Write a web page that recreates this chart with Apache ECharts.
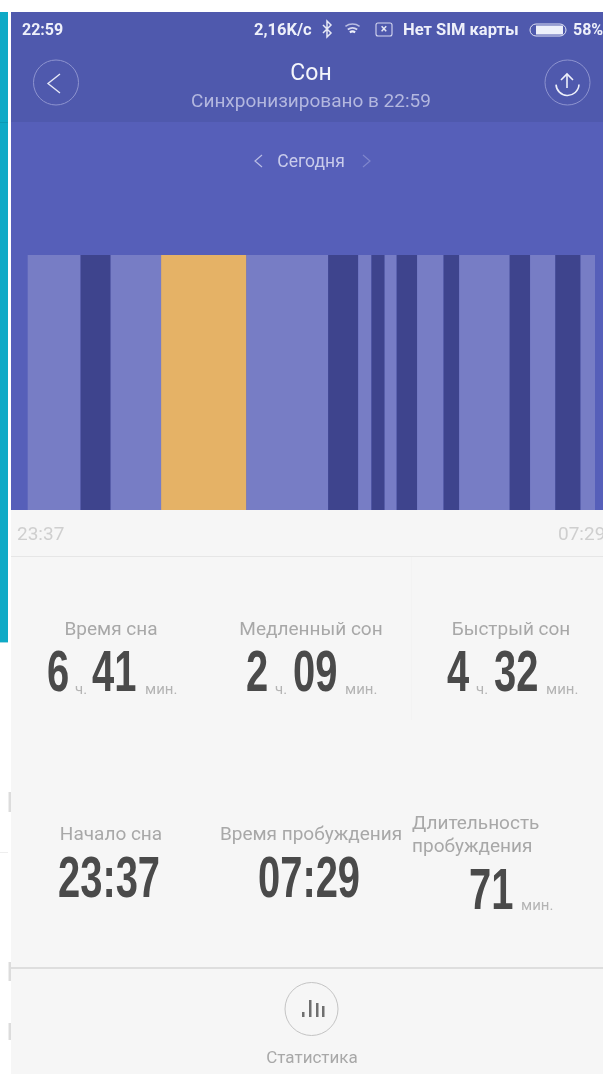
<!DOCTYPE html>
<html><head><meta charset="utf-8">
<style>html,body{margin:0;padding:0;background:#fff}#c{width:603px;height:1074px;filter:blur(0.6px)}</style>
<script src="https://cdn.jsdelivr.net/npm/echarts@6/dist/echarts.min.js"></script>
</head><body><div id="c"></div>
<script>
// Sleep timeline (minutes per phase, in order)
const phaseMinutes = [44,25,42,71,68,25,11,11,10,17,22,13,42,17,21,21,12];
const phaseKinds   = ['light','deep','light','awake','light','deep','light','deep','light','deep','light','deep','light','deep','light','deep','light'];
const phaseColors  = {light:'#777dc5', deep:'#3e448d', awake:'#e5b266'};
const timeLabels   = ['23:37','07:29'];
const durationTitles = ['Время сна','Медленный сон','Быстрый сон'];
const durationHours  = ['6','2','4'];
const durationMins   = ['41','09','32'];

const segments = [];
let t = 0;
phaseMinutes.forEach((m,i)=>{ segments.push([t,t+m,phaseKinds[i]]); t+=m; });

const UI='Roboto, sans-serif';
const NUM='"Liberation Sans Narrow", "Liberation Sans", sans-serif';
function txt(text,x,y,size,fill,o){o=o||{};
  return {type:'text',x:x,y:y,scaleX:o.sx||1,silent:true,z:10,style:{text:text,x:0,y:0,fill:fill,
    font:(o.w||'normal')+' '+size+'px '+(o.f||UI),textAlign:o.a||'center',textVerticalAlign:o.v||'middle'}};
}
function big(text,x,cy){ return txt(text,x,cy,57,'#4a4a4a',{f:NUM,w:'bold',a:'left',sx:0.70}); }
function small(text,x,cy){ return txt(text,x,cy,15,'#b4b4b4',{a:'left'}); }
function rect(x,y,w,h,fill,z){return {type:'rect',silent:true,z:z||1,shape:{x:x,y:y,width:w,height:h},style:{fill:fill}};}
function ring(cx,cy,r,stroke,lw){return {type:'circle',silent:true,z:5,shape:{cx:cx,cy:cy,r:r},style:{fill:'none',stroke:stroke,lineWidth:lw||1}};}
function poly(pts,stroke,lw){return {type:'polyline',silent:true,z:5,shape:{points:pts},style:{fill:'none',stroke:stroke,lineWidth:lw}};}
function arc(cx,cy,r,a,b,stroke,lw){return {type:'arc',silent:true,z:5,shape:{cx:cx,cy:cy,r:r,startAngle:a,endAngle:b},style:{fill:'none',stroke:stroke,lineWidth:lw}};}

const g=[
  rect(0,12,8,630,'#0eaac6'),
  rect(0,122,8,1,'#0c9ab4',2),
  rect(0,642,8,1,'#9fd8e4',2),
  rect(0,852,8,1,'#eeeeee'),
  rect(8.5,792,2.5,20,'#dcdcdc'),
  rect(8.5,962,2.5,19,'#dcdcdc'),
  rect(8.5,1023,2.5,17,'#dcdcdc'),
  rect(11,12,592,110,'#4f59ad'),
  rect(11,122,592,388,'#565fb9'),
  rect(11,510,592,564,'#f6f6f6'),
  rect(11,556,592,1,'#e6e6e6'),
  rect(411,557,1,163,'#f3f3f3'),
  rect(11,967,592,2,'#dedede'),
  // status bar
  txt('22:59',22,31,16,'#eef0fa',{w:'bold',a:'left'}),
  txt('2,16K/с',254,31,16.5,'#eef0fa',{w:'bold',a:'left'}),
  poly([[323,25],[331,33],[327,37],[327,21],[331,25],[323,33]],'#e6e8f6',1.5),
  arc(352.5,36,12,-2.2,-0.94,'#b9bde2',1.5),
  arc(352.5,36,8,-2.2,-0.94,'#d6d8f0',1.7),
  arc(352.5,36,4.5,-2.2,-0.94,'#eef0fa',2),
  {type:'rect',silent:true,z:5,shape:{x:376,y:23,width:16,height:13,r:2},style:{fill:'none',stroke:'#d6d8f0',lineWidth:1.1}},
  txt('×',384,29.5,12,'#e6e8f6',{w:'bold'}),
  txt('Нет SIM карты',403,31,16.5,'#eef0fa',{w:'bold',a:'left'}),
  {type:'rect',silent:true,z:5,shape:{x:530,y:24,width:36,height:12,r:6},style:{fill:'none',stroke:'#dfe1f3',lineWidth:1}},
  rect(536,25.5,27,9,'#eef0fa',6),
  txt('58%',573,31,16,'#eef0fa',{w:'bold',a:'left'}),
  // header
  ring(56,82.5,22.5,'#8d93cf',1),
  poly([[60,74],[48,83.5],[60,93]],'#e6e8f6',1.4),
  ring(567.5,82.5,22.5,'#8d93cf',1),
  poly([[561,80],[567,74],[573,80]],'#eef0fa',1.6),
  poly([[567,74],[567,88]],'#eef0fa',1.6),
  arc(567.5,84,11.5,0.05,3.09,'#eef0fa',1.6),
  txt('Сон',311,74,23,'#f4f5fb'),
  txt('Синхронизировано в 22:59',311,102.5,19,'#b3b7df'),
  txt('Сегодня',311,163,17.5,'#c9cceb'),
  poly([[262,155],[255,161],[262,167]],'#b9bde4',1.2),
  poly([[363,155],[370,161],[363,167]],'#7f86cc',1.2),
  // time labels
  txt(timeLabels[0],17,535,19,'#cfcfcf',{a:'left'}),
  txt(timeLabels[1],558,535,19,'#cfcfcf',{a:'left'}),
];
// first row of figures
const rowX=[[47,75,92,145],[246,275,293,345],[447,476,494,546]];
const titleX=[111,311,511];
durationTitles.forEach((s,i)=>{
  g.push(txt(s,titleX[i],630.5,19,'#a8a8a8'));
  const p=rowX[i];
  g.push(big(durationHours[i],p[0],675.5));
  g.push(small('ч.',p[1],690));
  g.push(big(durationMins[i],p[2],675.5));
  g.push(small('мин.',p[3],690));
});
// second row
g.push(txt('Начало сна',111,835.5,19,'#a8a8a8'));
g.push(txt('Время пробуждения',311,835.5,19,'#a8a8a8'));
g.push(txt('Длительность',412,824.5,19,'#a8a8a8',{a:'left'}));
g.push(txt('пробуждения',412,847.5,19,'#a8a8a8',{a:'left'}));
g.push(big(timeLabels[0],58,881));
g.push(big(timeLabels[1],258,881));
g.push(big('71',469,893));
g.push(small('мин.',521,906));
// stats button
g.push(ring(311.5,1009,26.5,'#c4c4c4',1));
[[302,1012],[309,1000],[316,1003],[322,1006]].forEach(b=>g.push(rect(b[0],b[1],2.5,1017-b[1],'#6f6f6f',6)));
g.push(txt('Статистика',312,1058.5,17,'#a8a8a8'));

const chart=echarts.init(document.getElementById('c'),null,{renderer:'canvas'});
chart.setOption({
  animation:false,
  backgroundColor:'#ffffff',
  grid:{left:27.7,right:8,top:255,height:255},
  xAxis:{type:'value',min:0,max:t,show:false},
  yAxis:{type:'value',min:0,max:1,show:false},
  graphic:{elements:g},
  series:[{
    type:'custom',z:3,silent:true,
    encode:{x:[0,1]},
    data:segments,
    clip:false,
    renderItem:(p,api)=>{
      const a=api.coord([api.value(0),1]), b=api.coord([api.value(1),0]);
      return {type:'rect',shape:{x:a[0],y:a[1],width:b[0]-a[0],height:b[1]-a[1]},
        style:{fill:phaseColors[segments[p.dataIndex][2]]}};
    }
  }]
});
</script></body></html>
